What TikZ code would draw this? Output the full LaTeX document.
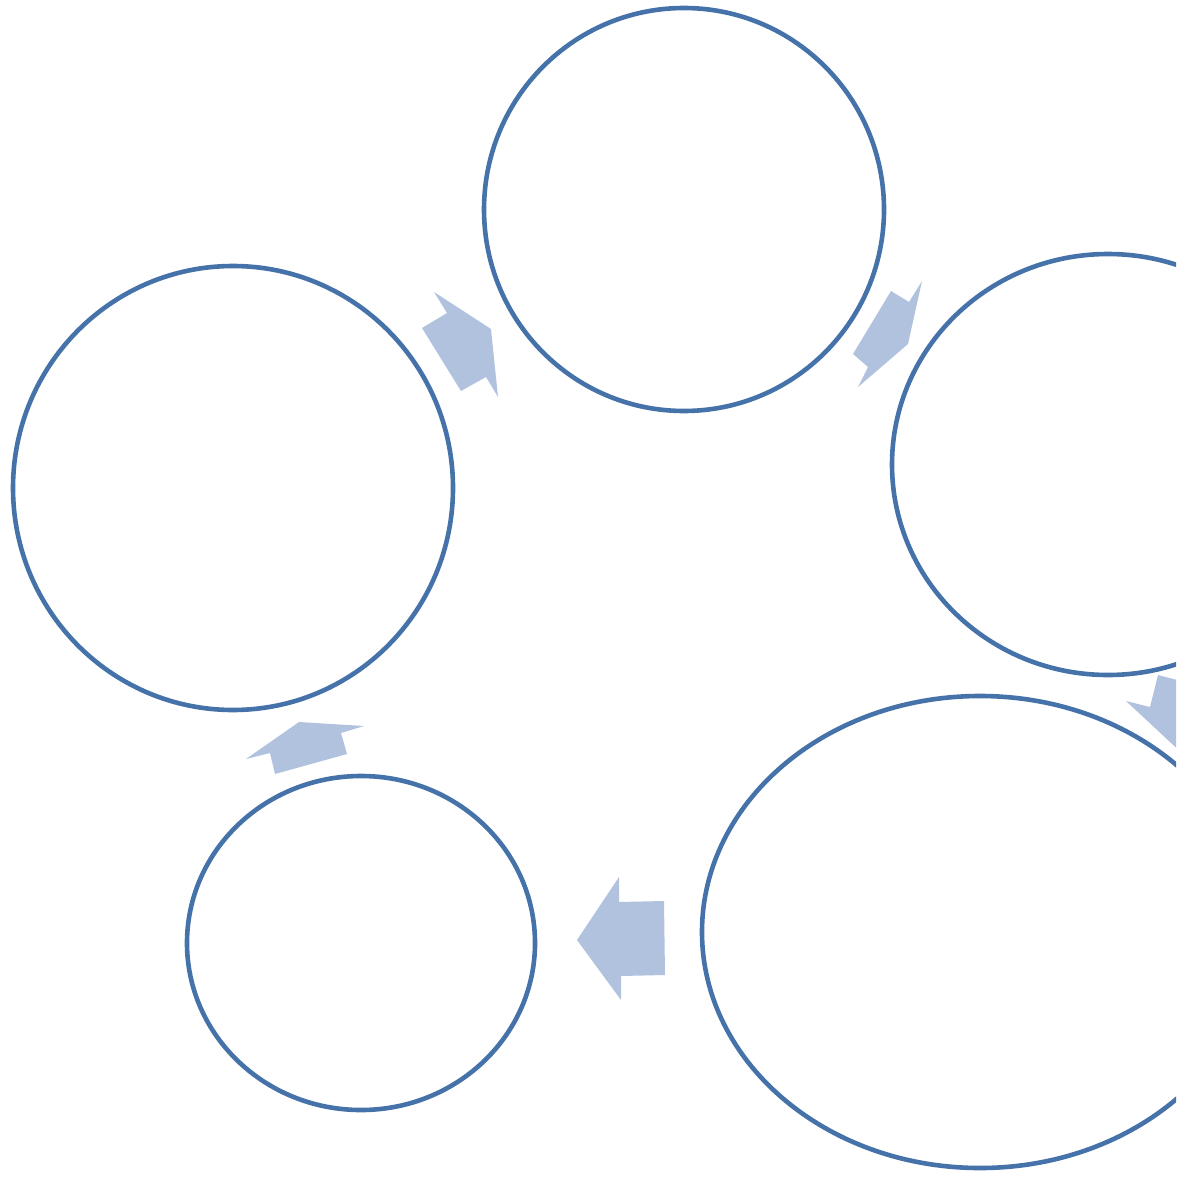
\documentclass[tikz,border=0pt]{standalone}
\usetikzlibrary{shapes.geometric}
\definecolor{ringblue}{RGB}{70,114,170}
\definecolor{arrowblue}{RGB}{177,194,222}
\begin{document}
\begin{tikzpicture}[x=1pt,y=-1pt,
  ring/.style={ellipse,draw=ringblue,line width=4.6pt,inner sep=0pt,fill=none},
  blockarrow/.style={fill=arrowblue,draw=none}]
\useasboundingbox (0,0) rectangle (1176,1177);
\clip (0,0) rectangle (1176,1177);
\node[ring,minimum width=400pt,minimum height=403pt] (top) at (684,209.5) {};
\node[ring,minimum width=432pt,minimum height=421pt] (right) at (1108,464.5) {};
\node[ring,minimum width=556pt,minimum height=472pt] (bright) at (980,932) {};
\node[ring,minimum width=348pt,minimum height=334pt] (bleft) at (361,943) {};
\node[ring,minimum width=440pt,minimum height=444pt] (left) at (233,488) {};
% block arrows
\fill[blockarrow] (434,292) -- (491,329) -- (498,397) -- (486,377) -- (461,391) -- (422,328) -- (447,313) -- cycle;
\fill[blockarrow] (891,291) -- (909,302) -- (922,281) -- (908,344) -- (858,387) -- (868,367) -- (853,354) -- cycle;
\fill[blockarrow] (1158,675) -- (1200,686) -- (1200,770) -- (1126,701) -- (1150,707) -- cycle;
\fill[blockarrow] (577,940) -- (619,877) -- (619,902) -- (664,901) -- (665,975) -- (621,976) -- (621,1000) -- cycle;
\fill[blockarrow] (246,759) -- (299,722) -- (364,726) -- (341,733) -- (347,754) -- (275,774) -- (270,753) -- cycle;
\end{tikzpicture}
\end{document}
